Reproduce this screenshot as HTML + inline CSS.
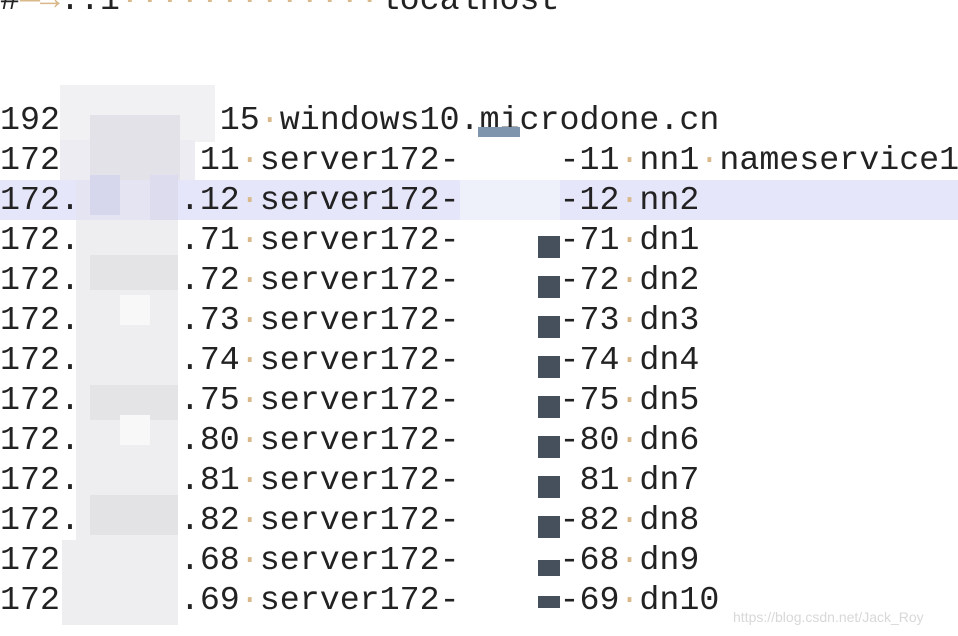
<!DOCTYPE html>
<html><head><meta charset="utf-8"><style>
html,body{margin:0;padding:0;background:#fff;width:958px;height:636px;overflow:hidden;position:relative}
.r{position:absolute;left:0;height:40px;line-height:40px;font-family:"Liberation Mono",monospace;font-size:33.3px;color:#222;white-space:pre;letter-spacing:0}
.d{color:#d9b98c}
.hl{position:absolute;left:0;top:180px;width:958px;height:40px;background:#e6e6fa}
.b{position:absolute}
.sq{position:absolute;left:538px;width:22px;height:22px;background:#45505c}
.wm{position:absolute;left:733px;top:609px;font-family:"Liberation Sans",sans-serif;font-size:14px;color:#d8d8d8}
</style></head><body>
<div class="hl"></div>
<div class="r" style="top:-20px">#<span class="d">—→</span>..1<span class="d">·············</span>localhost</div>
<div class="r" style="top:100px">192        15<span class="d">·</span>windows10.microdone.cn</div>
<div class="r" style="top:140px">172       11<span class="d">·</span>server172-     -11<span class="d">·</span>nn1<span class="d">·</span>nameservice1</div>
<div class="r" style="top:180px">172.     .12<span class="d">·</span>server172-     -12<span class="d">·</span>nn2</div>
<div class="r" style="top:220px">172.     .71<span class="d">·</span>server172-     -71<span class="d">·</span>dn1</div>
<div class="r" style="top:260px">172.     .72<span class="d">·</span>server172-     -72<span class="d">·</span>dn2</div>
<div class="r" style="top:300px">172.     .73<span class="d">·</span>server172-     -73<span class="d">·</span>dn3</div>
<div class="r" style="top:340px">172.     .74<span class="d">·</span>server172-     -74<span class="d">·</span>dn4</div>
<div class="r" style="top:380px">172.     .75<span class="d">·</span>server172-     -75<span class="d">·</span>dn5</div>
<div class="r" style="top:420px">172.     .80<span class="d">·</span>server172-     -80<span class="d">·</span>dn6</div>
<div class="r" style="top:460px">172.     .81<span class="d">·</span>server172-      81<span class="d">·</span>dn7</div>
<div class="r" style="top:500px">172.     .82<span class="d">·</span>server172-     -82<span class="d">·</span>dn8</div>
<div class="r" style="top:540px">172      .68<span class="d">·</span>server172-     -68<span class="d">·</span>dn9</div>
<div class="r" style="top:580px">172      .69<span class="d">·</span>server172-     -69<span class="d">·</span>dn10</div>

<!-- left blur -->
<div class="b" style="left:60px;top:85px;width:155px;height:57px;background:#f1f1f3"></div>
<div class="b" style="left:60px;top:140px;width:135px;height:40px;background:#ececf2"></div>
<div class="b" style="left:76px;top:180px;width:102px;height:40px;background:#e4e4f2"></div>
<div class="b" style="left:76px;top:220px;width:102px;height:405px;background:#eeeef0"></div>
<div class="b" style="left:62px;top:540px;width:20px;height:85px;background:#eeeef0"></div>
<div class="b" style="left:90px;top:115px;width:90px;height:65px;background:#e2e2e8"></div>
<div class="b" style="left:90px;top:175px;width:30px;height:40px;background:#d6d6ec"></div>
<div class="b" style="left:150px;top:175px;width:28px;height:45px;background:#dcdcee"></div>
<div class="b" style="left:90px;top:255px;width:88px;height:35px;background:#e4e4e6"></div>
<div class="b" style="left:90px;top:385px;width:88px;height:35px;background:#e4e4e6"></div>
<div class="b" style="left:90px;top:495px;width:88px;height:40px;background:#e3e3e6"></div>
<div class="b" style="left:120px;top:295px;width:30px;height:30px;background:#f8f8f8"></div>
<div class="b" style="left:120px;top:415px;width:30px;height:30px;background:#f8f8f8"></div>
<!-- right blur -->
<div class="b" style="left:460px;top:136px;width:100px;height:474px;background:#fff"></div>
<div class="b" style="left:460px;top:180px;width:100px;height:40px;background:#eef0fa"></div>
<div class="b" style="left:478px;top:127px;width:42px;height:10px;background:#7f95ae"></div>
<div class="sq" style="top:236px"></div>
<div class="sq" style="top:276px"></div>
<div class="sq" style="top:316px"></div>
<div class="sq" style="top:356px"></div>
<div class="sq" style="top:396px"></div>
<div class="sq" style="top:436px"></div>
<div class="sq" style="top:476px"></div>
<div class="sq" style="top:516px"></div>
<div class="sq" style="top:560px;height:16px"></div>
<div class="sq" style="top:596px;height:12px"></div>
<div class="wm">https://blog.csdn.net/Jack_Roy</div>
</body></html>
